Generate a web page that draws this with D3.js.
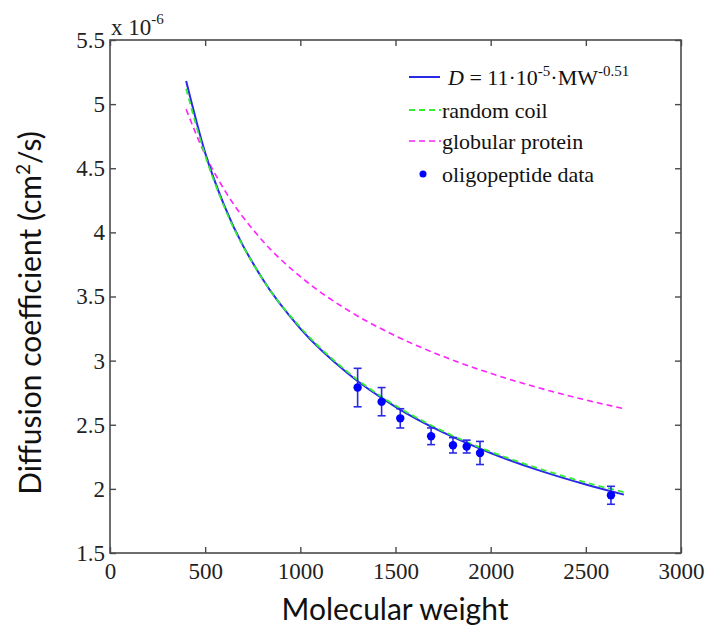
<!DOCTYPE html>
<html>
<head>
<meta charset="utf-8">
<script src="https://cdn.jsdelivr.net/npm/d3@7"></script>
<style>
  html, body { margin: 0; padding: 0; background: #fff; }
  svg { display: block; }
  .serif, .serif text { font-family: "Liberation Serif", "DejaVu Serif", serif !important; }
</style>
</head>
<body>
<svg id="chart" width="709" height="626"></svg>
<script>
// ---- data (D in units of 1e-6 cm^2/s) ----
const curveMW   = [400, 500, 600, 800, 1000, 1250, 1500, 1750, 2000, 2250, 2500, 2700];
const fitD      = [5.18, 4.62, 4.21, 3.64, 3.25, 2.90, 2.64, 2.44, 2.28, 2.146, 2.034, 1.955];
const coilD     = [5.12, 4.60, 4.20, 3.64, 3.26, 2.91, 2.65, 2.45, 2.29, 2.16, 2.05, 1.975];
const globularD = [4.96, 4.605, 4.334, 3.937, 3.655, 3.393, 3.193, 3.033, 2.901, 2.789, 2.693, 2.625];
const dataMW    = [1301, 1427, 1525, 1687, 1802, 1874, 1944, 2632];
const dataD     = [2.79, 2.68, 2.55, 2.41, 2.34, 2.33, 2.28, 1.95];
const dataErr   = [0.15, 0.11, 0.075, 0.065, 0.06, 0.05, 0.09, 0.07];
const xTicks    = [0, 500, 1000, 1500, 2000, 2500, 3000];
const yTicks    = [1.5, 2, 2.5, 3, 3.5, 4, 4.5, 5, 5.5];
const legendItems = ["fit", "random coil", "globular protein", "oligopeptide data"];

const svg = d3.select("#chart");
const m = { left: 110, right: 681, top: 40, bottom: 553 };
const x = d3.scaleLinear().domain([0, 3000]).range([m.left, m.right]);
const y = d3.scaleLinear().domain([1.5, 5.5]).range([m.bottom, m.top]);

const sans = "Lato, 'Open Sans', sans-serif";
const axisColor = "#4a4a4a";
const blue = "#2a2ae6", green = "#33ee33", magenta = "#ff22ff", dotBlue = "#0000ff";

// curves
const line = d3.line().x(d => x(d[0])).y(d => y(d[1])).curve(d3.curveMonotoneX);
svg.append("path").datum(curveMW.map((v, i) => [v, globularD[i]]))
  .attr("d", line).attr("fill", "none").attr("stroke", magenta)
  .attr("stroke-width", 1.6).attr("stroke-dasharray", "6,4");
svg.append("path").datum(curveMW.map((v, i) => [v, fitD[i]]))
  .attr("d", line).attr("fill", "none").attr("stroke", blue)
  .attr("stroke-width", 2);
svg.append("path").datum(curveMW.map((v, i) => [v, coilD[i]]))
  .attr("d", line).attr("fill", "none").attr("stroke", green)
  .attr("stroke-width", 1.8).attr("stroke-dasharray", "6,4");

// error bars + points
const eb = svg.append("g").attr("stroke", blue).attr("stroke-width", 1.6);
dataMW.forEach((mw, i) => {
  const cx = x(mw), y1 = y(dataD[i] + dataErr[i]), y0 = y(dataD[i] - dataErr[i]);
  eb.append("line").attr("x1", cx).attr("x2", cx).attr("y1", y1).attr("y2", y0);
  eb.append("line").attr("x1", cx - 4).attr("x2", cx + 4).attr("y1", y1).attr("y2", y1);
  eb.append("line").attr("x1", cx - 4).attr("x2", cx + 4).attr("y1", y0).attr("y2", y0);
});
svg.append("g").selectAll("circle").data(dataMW).join("circle")
  .attr("cx", d => x(d)).attr("cy", (d, i) => y(dataD[i])).attr("r", 4.2)
  .attr("fill", dotBlue);

// axes (box with inward ticks on all sides)
const tickLen = 6;
const bottomAxis = d3.axisBottom(x).tickValues(xTicks).tickSize(-tickLen).tickPadding(10).tickFormat(d3.format("d"));
const topAxis = d3.axisTop(x).tickValues(xTicks).tickSize(-tickLen).tickFormat("");
const leftAxis = d3.axisLeft(y).tickValues(yTicks).tickSize(-tickLen).tickPadding(5).tickFormat(d => d3.format("")(d));
const rightAxis = d3.axisRight(y).tickValues(yTicks).tickSize(-tickLen).tickFormat("");

function styleAxis(g) {
  g.attr("font-family", null).attr("font-size", null).classed("serif", true);
  g.select(".domain").remove();
  g.selectAll(".tick line").attr("stroke", axisColor).attr("stroke-width", 1.4);
  g.selectAll(".tick text").attr("fill", "#222").style("font-size", "23px");
}
svg.append("g").attr("transform", `translate(0,${m.bottom})`).call(bottomAxis).call(styleAxis);
svg.append("g").attr("transform", `translate(0,${m.top})`).call(topAxis).call(styleAxis);
svg.append("g").attr("transform", `translate(${m.left},0)`).call(leftAxis).call(styleAxis);
svg.append("g").attr("transform", `translate(${m.right},0)`).call(rightAxis).call(styleAxis);
svg.append("rect").attr("x", m.left).attr("y", m.top)
  .attr("width", m.right - m.left).attr("height", m.bottom - m.top)
  .attr("fill", "none").attr("stroke", axisColor).attr("stroke-width", 1.6);

// exponent label
const ex = svg.append("text").attr("class", "serif").attr("x", 111).attr("y", 35)
  .style("font-size", "23px").attr("fill", "#222");
ex.append("tspan").text("x 10");
ex.append("tspan").attr("dy", -11).style("font-size", "15px").text("-6");

// axis titles
svg.append("text").attr("x", 395).attr("y", 620).attr("text-anchor", "middle")
  .style("font-family", sans).style("font-size", "30px").attr("fill", "#111")
  .text("Molecular weight");
const yt = svg.append("text").attr("transform", "translate(41,313) rotate(-90)")
  .attr("text-anchor", "middle").style("font-family", sans).style("font-size", "30px").attr("fill", "#111");
yt.append("tspan").text("Diffusion coefficient (cm");
yt.append("tspan").attr("dy", -11).style("font-size", "19px").text("2");
yt.append("tspan").attr("dy", 11).text("/s)");

// legend
const lg = svg.append("g").attr("class", "serif").style("font-size", "22px").attr("fill", "#111");
const rows = [77, 110, 141, 174];
lg.append("line").attr("x1", 409).attr("x2", 440).attr("y1", rows[0]).attr("y2", rows[0])
  .attr("stroke", blue).attr("stroke-width", 2);
lg.append("line").attr("x1", 409).attr("x2", 441).attr("y1", rows[1]).attr("y2", rows[1])
  .attr("stroke", green).attr("stroke-width", 1.8).attr("stroke-dasharray", "6,4");
lg.append("line").attr("x1", 409).attr("x2", 441).attr("y1", rows[2]).attr("y2", rows[2])
  .attr("stroke", magenta).attr("stroke-width", 1.6).attr("stroke-dasharray", "6,4");
lg.append("circle").attr("cx", 423).attr("cy", rows[3]).attr("r", 3.5).attr("fill", dotBlue);

const t0 = lg.append("text").attr("x", 448).attr("y", rows[0] + 8);
t0.append("tspan").style("font-style", "italic").text("D");
t0.append("tspan").text(" = 11\u00B710");
t0.append("tspan").attr("dy", -9).style("font-size", "15px").text("-5");
t0.append("tspan").attr("dy", 9).text("\u00B7MW");
t0.append("tspan").attr("dy", -9).style("font-size", "15px").text("-0.51");
lg.append("text").attr("x", 442).attr("y", rows[1] + 8).text(legendItems[1]);
lg.append("text").attr("x", 442).attr("y", rows[2] + 8).text(legendItems[2]);
lg.append("text").attr("x", 442).attr("y", rows[3] + 8).text(legendItems[3]);
</script>
</body>
</html>
